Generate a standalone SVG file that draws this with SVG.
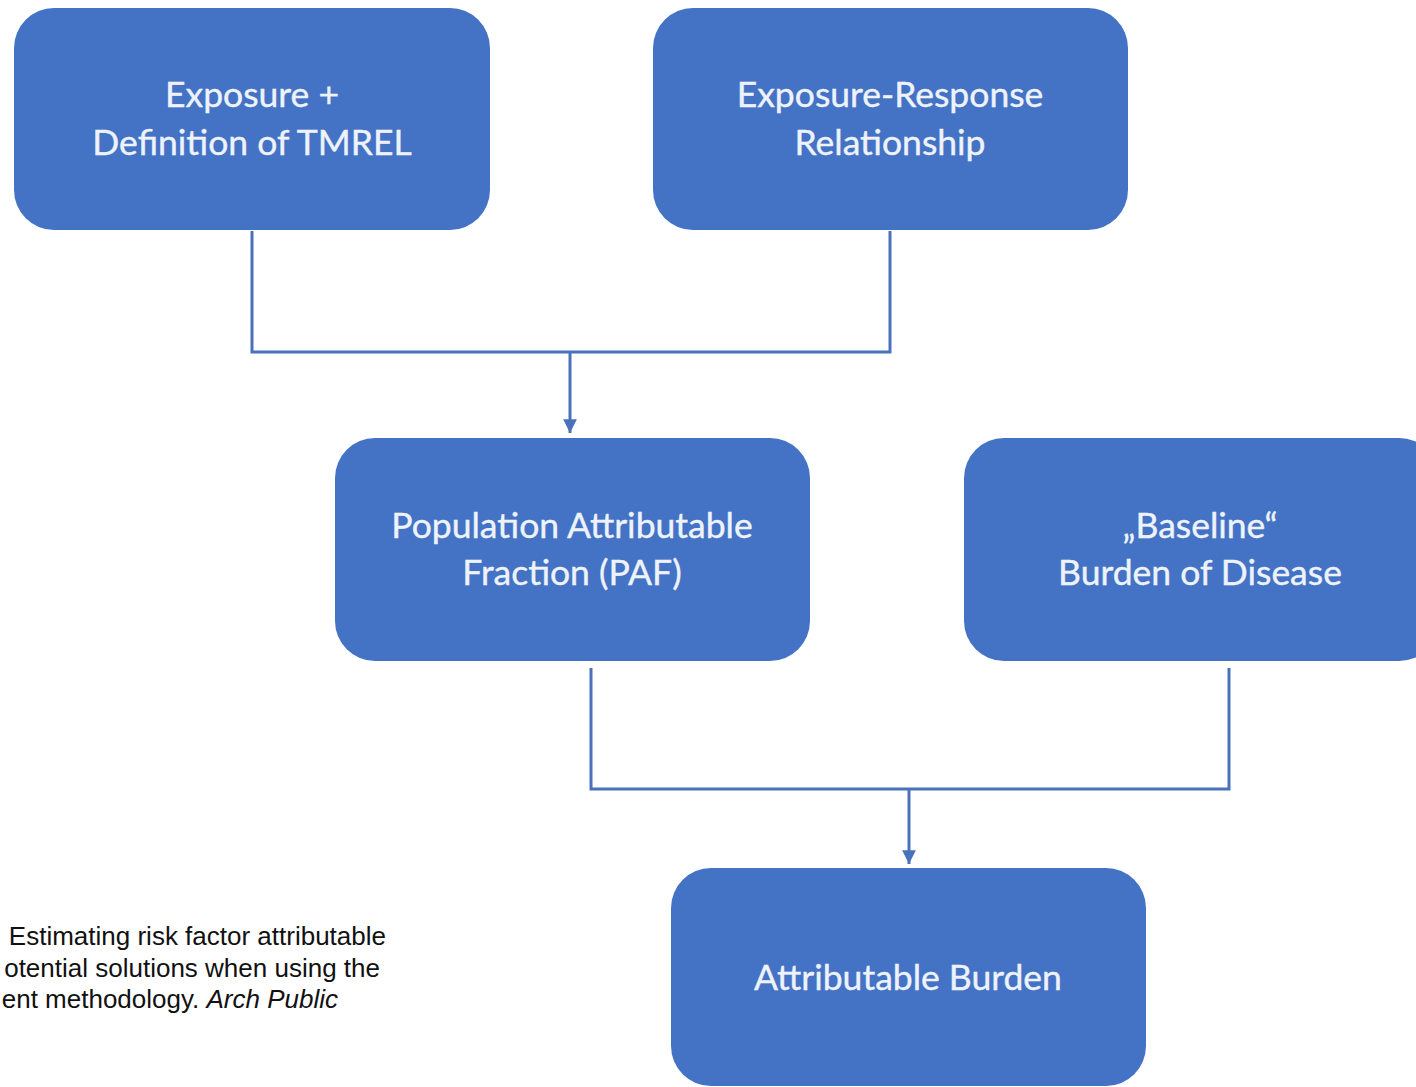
<svg xmlns="http://www.w3.org/2000/svg" width="1416" height="1087" viewBox="0 0 1416 1087">
<defs>
<style>
.box{fill:#4472C4;}
.lbl{font-family:"Lato","Open Sans",sans-serif;font-size:35.5px;fill:#eef3fb;text-anchor:middle;stroke:#eef3fb;stroke-width:0.4;}
.con{fill:none;stroke:#4A72BC;stroke-width:3;}
.cite{font-family:"Liberation Sans",Arial,sans-serif;font-size:26px;fill:#111;text-anchor:end;}
</style>
<marker id="arr" viewBox="0 0 10 10" refX="10" refY="5" markerWidth="5" markerHeight="4.6" orient="auto" markerUnits="strokeWidth">
<path d="M0,0 L10,5 L0,10 z" fill="#4A72BC"/>
</marker>
</defs>
<rect width="1416" height="1087" fill="#ffffff"/>
<g id="connectors">
<path class="con" d="M252,231 V352 H890 V231"/>
<path class="con" d="M570,352 V433" marker-end="url(#arr)"/>
<path class="con" d="M591,668 V789 H1229 V668"/>
<path class="con" d="M909,789 V864" marker-end="url(#arr)"/>
</g>
<g id="exposure">
<rect class="box" x="14" y="8" width="476" height="222" rx="40"/>
<text class="lbl" x="252" y="107">Exposure +</text>
<text class="lbl" x="252" y="155">Definition of TMREL</text>
</g>
<g id="exposure-response">
<rect class="box" x="653" y="8" width="475" height="222" rx="40"/>
<text class="lbl" x="890" y="107">Exposure-Response</text>
<text class="lbl" x="890" y="155">Relationship</text>
</g>
<g id="paf">
<rect class="box" x="335" y="438" width="475" height="223" rx="40"/>
<text class="lbl" x="572" y="538">Population Attributable</text>
<text class="lbl" x="572" y="585">Fraction (PAF)</text>
</g>
<g id="baseline">
<rect class="box" x="964" y="438" width="475" height="223" rx="40"/>
<text class="lbl" x="1200" y="538">„Baseline“</text>
<text class="lbl" x="1200" y="585">Burden of Disease</text>
</g>
<g id="attributable">
<rect class="box" x="671" y="868" width="475" height="218" rx="40"/>
<text class="lbl" x="908" y="990">Attributable Burden</text>
</g>
<g id="citation">
<text class="cite" x="386" y="945">Estimating risk factor attributable</text>
<text class="cite" x="380" y="977">otential solutions when using the</text>
<text class="cite" x="338" y="1008">ent methodology. <tspan font-style="italic">Arch Public</tspan></text>
</g>
</svg>
